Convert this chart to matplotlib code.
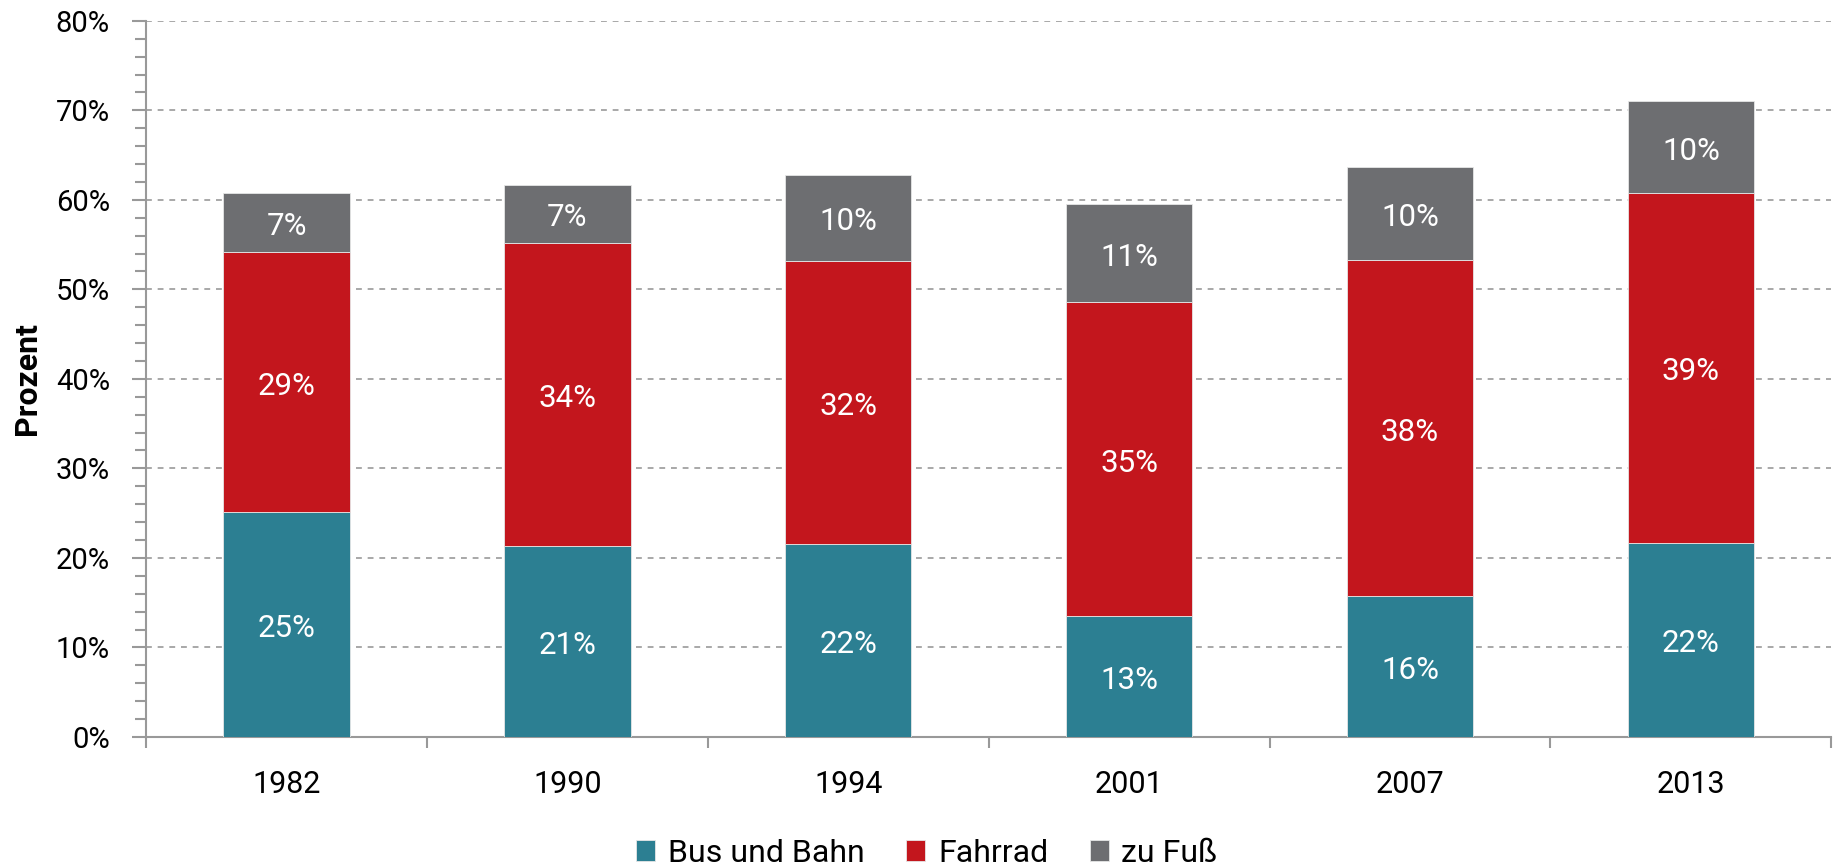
import numpy as np
import matplotlib
matplotlib.use('Agg')
import matplotlib.pyplot as plt
from matplotlib.ticker import MultipleLocator, FixedLocator, NullFormatter, FuncFormatter

plt.rcParams['font.family'] = ['Roboto', 'DejaVu Sans']

#Data
years = ['1982', '1990', '1994', '2001', '2007', '2013']
bus_bahn = [25.1, 21.3, 21.6, 13.5, 15.7, 21.7]
fahrrad = [29.1, 33.9, 31.6, 35.1, 37.6, 39.1]
zu_fuss = [6.6, 6.5, 9.6, 10.9, 10.4, 10.2]
#labels as printed on the chart
bus_bahn_lbl = ['25%', '21%', '22%', '13%', '16%', '22%']
fahrrad_lbl = ['29%', '34%', '32%', '35%', '38%', '39%']
zu_fuss_lbl = ['7%', '7%', '10%', '11%', '10%', '10%']
series_names = ['Bus und Bahn', 'Fahrrad', 'zu Fuß']
colors = ['#2C7F92', '#C3161D', '#6D6E71']

fig = plt.figure(figsize = (18.35, 8.67), dpi = 100)
ax = fig.add_axes([0.0796, 0.150, 0.9184, 0.826])

x = np.arange(len(years))
bottom = np.zeros(len(years))
handles = []
for vals, lbls, name, col in zip([bus_bahn, fahrrad, zu_fuss], [bus_bahn_lbl, fahrrad_lbl, zu_fuss_lbl],
                                 series_names, colors):
   vals = np.array(vals)
   bars = ax.bar(x, vals, width = 0.45, bottom = bottom, color = col,
                 edgecolor = '#e6e6e6', linewidth = 0.6, label = name, zorder = 3)
   handles.append(bars)
   for xi, b, v, t in zip(x, bottom, vals, lbls):
      ax.annotate(t, (xi, b + v / 2), xytext = (0, -3), textcoords = 'offset points',
                  ha = 'center', va = 'center', color = 'white', fontsize = 22.5, zorder = 4)
   bottom += vals

#Axes styling
ax.set_xlim(-0.5, len(years) - 0.5)
ax.set_ylim(0, 80)
ax.yaxis.set_major_locator(MultipleLocator(10))
ax.yaxis.set_minor_locator(MultipleLocator(2))
ax.yaxis.set_major_formatter(FuncFormatter(lambda v, p: f'{v:.0f}%'))
ax.grid(axis = 'y', which = 'major', color = '#999999', linestyle = (0, (3.5, 3.5)),
        linewidth = 1.2, zorder = 0)

ax.xaxis.set_major_locator(FixedLocator(np.arange(-0.5, len(years), 1.0)))
ax.xaxis.set_major_formatter(NullFormatter())
ax.xaxis.set_minor_locator(FixedLocator(x))
ax.set_xticklabels(years, minor = True)
ax.tick_params(axis = 'x', which = 'major', length = 8, width = 1.5, color = '#999999', direction = 'out')
ax.tick_params(axis = 'x', which = 'minor', length = 0, pad = 24, labelsize = 22)
ax.tick_params(axis = 'y', which = 'major', length = 10, width = 1.5, color = '#999999', pad = 16, labelsize = 21)
ax.tick_params(axis = 'y', which = 'minor', length = 8, width = 1.5, color = '#999999')

for s in ['top', 'right']:
   ax.spines[s].set_visible(False)
for s in ['left', 'bottom']:
   ax.spines[s].set_color('#999999')
   ax.spines[s].set_linewidth(1.5)

ax.set_ylabel('Prozent', fontsize = 23, fontweight = 'bold')
ax.yaxis.set_label_coords(-0.062, 0.5)

fig.legend(handles = handles, labels = series_names, loc = 'center', bbox_to_anchor = (0.505, 0.016),
           ncol = 3, frameon = False, fontsize = 23, handlelength = 0.6, handleheight = 0.6,
           handletextpad = 0.4, columnspacing = 1.3)

plt.savefig('out.png', dpi = 100)
